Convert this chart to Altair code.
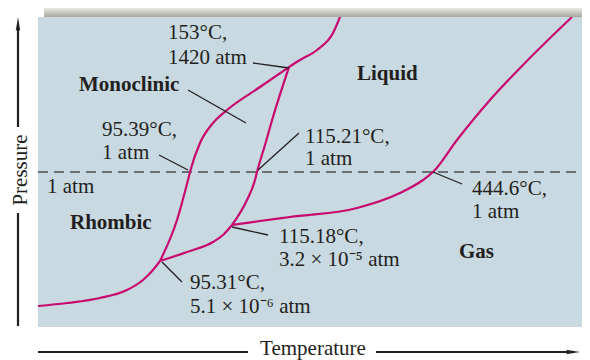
import altair as alt
import pandas as pd

# Phase boundaries of sulfur (schematic units: temperature -> x, pressure -> y)
rhombic_gas_t = [0, 29, 62, 89, 105, 115, 122]
rhombic_gas_p = [20, 23, 28, 36, 46, 56, 65]

monoclinic_gas_t = [122, 149, 175, 185, 194]
monoclinic_gas_p = [65, 74, 84, 91, 101]

liquid_gas_t = [194, 222, 252, 319, 362, 385, 395, 419, 452, 485, 534]
liquid_gas_p = [101, 105, 109, 118, 133, 146, 154, 186, 226, 261, 309]

rhombic_mono_t = [122, 139, 150, 152, 162, 175, 189, 222, 251]
rhombic_mono_p = [65, 106, 146, 154, 183, 203, 216, 239, 259]

mono_liquid_t = [194, 209, 217, 219, 227, 235, 251]
mono_liquid_p = [101, 126, 146, 154, 181, 209, 259]

rhombic_liquid_t = [251, 262, 279, 295, 302]
rhombic_liquid_p = [259, 266, 276, 293, 309]

one_atm = 154

# Labels
label_text = ["153°C,", "1420 atm", "95.39°C,", "1 atm", "115.21°C,", "1 atm",
              "1 atm", "95.31°C,", "5.1 × 10⁻⁶ atm", "115.18°C,", "3.2 × 10⁻⁵ atm",
              "444.6°C,", "1 atm"]
label_t = [130, 130, 64, 64, 267, 267, 9, 152, 152, 241, 241, 434, 434]
label_p = [293, 268, 196, 173, 189, 167, 139, 43, 19, 89, 66, 137, 114]

phase_text = ["Monoclinic", "Liquid", "Rhombic", "Gas"]
phase_t = [41, 319, 32, 421]
phase_p = [241, 252, 103, 74]

leader_t1 = [215, 150, 121, 220, 124, 194, 395]
leader_p1 = [263, 236, 171, 156, 64, 99, 154]
leader_t2 = [251, 208, 150, 261, 144, 230, 424]
leader_p2 = [258, 203, 156, 193, 44, 91, 142]

# Axis arrows (drawn outside the frame)
axis_t1 = [-20, -20, 0, 338]
axis_p1 = [0, 199, -26, -26]
axis_t2 = [-20, -20, 210, 533]
axis_p2 = [113, 299, -26, -26]
axis_titles = ["Pressure", "Temperature"]
axis_title_t = [-17, 275]
axis_title_p = [156, -23]

FONT = "Liberation Serif"
CURVE = "#c8096e"
INK = "#231f20"

xs = alt.Scale(domain=[0, 544], nice=False, zero=False)
ys = alt.Scale(domain=[-1, 309], nice=False, zero=False)

curves = []
for name, t, p in [("rg", rhombic_gas_t, rhombic_gas_p),
                   ("mg", monoclinic_gas_t, monoclinic_gas_p),
                   ("lg", liquid_gas_t, liquid_gas_p),
                   ("rm", rhombic_mono_t, rhombic_mono_p),
                   ("ml", mono_liquid_t, mono_liquid_p),
                   ("rl", rhombic_liquid_t, rhombic_liquid_p)]:
    for a, b in zip(t, p):
        curves.append({"curve": name, "t": a, "p": b})
curve_df = pd.DataFrame(curves)

X = lambda f: alt.X(f, scale=xs, axis=None)
Y = lambda f: alt.Y(f, scale=ys, axis=None)

curve_layer = alt.Chart(curve_df).mark_line(
    color=CURVE, strokeWidth=2.2, interpolate="monotone", clip=True
).encode(x=X("t:Q"), y=Y("p:Q"), detail="curve:N")

dash_df = pd.DataFrame({"t": [0, 544], "p": [one_atm, one_atm]})
dash_layer = alt.Chart(dash_df).mark_line(
    color="#4d4d4f", strokeWidth=1.6, strokeDash=[10, 6]
).encode(x=X("t:Q"), y=Y("p:Q"))

lead_df = pd.DataFrame({"t1": leader_t1, "p1": leader_p1, "t2": leader_t2, "p2": leader_p2})
lead_layer = alt.Chart(lead_df).mark_rule(color=INK, strokeWidth=1.3).encode(
    x=X("t1:Q"), y=Y("p1:Q"), x2="t2:Q", y2="p2:Q"
)

lab_df = pd.DataFrame({"text": label_text, "t": label_t, "p": label_p})
lab_layer = alt.Chart(lab_df).mark_text(
    font=FONT, fontSize=21, color=INK, align="left", baseline="middle"
).encode(x=X("t:Q"), y=Y("p:Q"), text="text:N")

ph_df = pd.DataFrame({"text": phase_text, "t": phase_t, "p": phase_p})
ph_layer = alt.Chart(ph_df).mark_text(
    font=FONT, fontSize=21, fontWeight="bold", color=INK, align="left", baseline="middle"
).encode(x=X("t:Q"), y=Y("p:Q"), text="text:N")

ax_df = pd.DataFrame({"t1": axis_t1, "p1": axis_p1, "t2": axis_t2, "p2": axis_p2})
ax_layer = alt.Chart(ax_df).mark_rule(color=INK, strokeWidth=2.2).encode(
    x=X("t1:Q"), y=Y("p1:Q"), x2="t2:Q", y2="p2:Q"
)

head_up = alt.Chart(pd.DataFrame({"t": [-20], "p": [302]})).mark_point(
    shape="M0,-1L0.32,1L0,0.7L-0.32,1Z", filled=True, color=INK, opacity=1, size=200
).encode(x=X("t:Q"), y=Y("p:Q"))
head_right = alt.Chart(pd.DataFrame({"t": [535], "p": [-26]})).mark_point(
    shape="M1,0L-1,0.32L-0.7,0L-1,-0.32Z", filled=True, color=INK, opacity=1, size=200
).encode(x=X("t:Q"), y=Y("p:Q"))

title_v = alt.Chart(pd.DataFrame({"text": [axis_titles[0]], "t": [axis_title_t[0]], "p": [axis_title_p[0]]})).mark_text(
    font=FONT, fontSize=21, color=INK, angle=270, align="center", baseline="middle"
).encode(x=X("t:Q"), y=Y("p:Q"), text="text:N")
title_h = alt.Chart(pd.DataFrame({"text": [axis_titles[1]], "t": [axis_title_t[1]], "p": [axis_title_p[1]]})).mark_text(
    font=FONT, fontSize=21, color=INK, align="center", baseline="middle"
).encode(x=X("t:Q"), y=Y("p:Q"), text="text:N")

shadow = alt.Chart(pd.DataFrame({"t1": [6], "t2": [544], "p1": [309], "p2": [321]})).mark_rect(
    fill={"gradient": "linear", "x1": 0, "y1": 0, "x2": 0, "y2": 1,
          "stops": [{"offset": 0, "color": "#ffffff"},
                    {"offset": 1, "color": "#a8a79e"}]},
).encode(x=X("t1:Q"), x2="t2:Q", y=Y("p1:Q"), y2="p2:Q")

chart = alt.layer(
    shadow, dash_layer, curve_layer, lead_layer, lab_layer, ph_layer,
    ax_layer, head_up, head_right, title_v, title_h
).properties(
    width=544, height=310,
    autosize=alt.AutoSizeParams(type="none"),
    padding={"left": 30, "top": 9, "right": 0, "bottom": 33},
    background="white",
).configure_view(fill="#c9d9e1", strokeWidth=0)

chart.save("out.html", embed_options={"renderer": "svg", "actions": False})
